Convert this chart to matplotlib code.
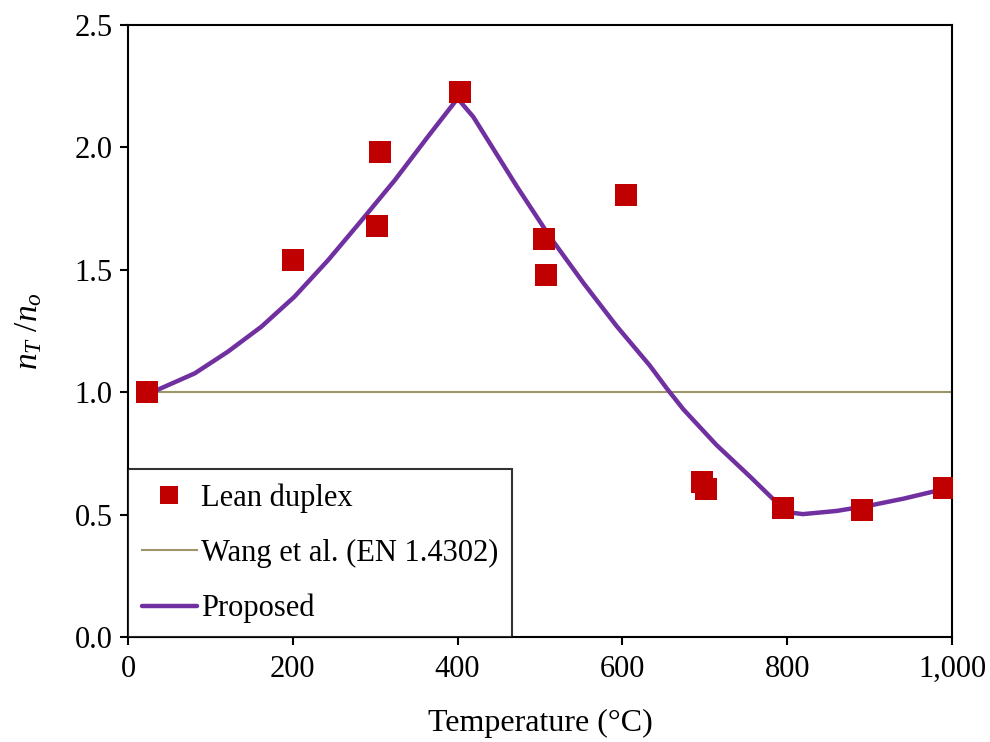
import matplotlib
matplotlib.use("Agg")
import matplotlib.pyplot as plt
from matplotlib.ticker import FuncFormatter

plt.rcParams['font.family'] = ['Liberation Serif', 'DejaVu Serif']
plt.rcParams['mathtext.fontset'] = 'custom'
plt.rcParams['mathtext.rm'] = 'Liberation Serif'
plt.rcParams['mathtext.it'] = 'Liberation Serif:italic'

# test data (lean duplex)
test_T = [23, 200, 306, 302, 403, 505, 507, 604, 697, 701, 795, 891, 990]
test_n = [1.00, 1.54, 1.98, 1.68, 2.225, 1.625, 1.48, 1.805, 0.633, 0.605, 0.527, 0.519, 0.609]

# Wang et al. (EN 1.4302)
wang_T = [20, 1000]
wang_n = [1.0, 1.0]

# proposed curve
prop_T = [20, 36, 81, 121, 162, 202, 243, 283, 324, 364, 400, 419, 472, 512,
          553, 593, 633, 654, 674, 714, 755, 787, 800, 819, 860, 900, 941, 981, 1000]
prop_n = [1.00, 1.01, 1.077, 1.165, 1.268, 1.39, 1.54, 1.70, 1.867, 2.044, 2.20, 2.125,
          1.84, 1.635, 1.445, 1.27, 1.11, 1.015, 0.93, 0.785, 0.655, 0.55, 0.51,
          0.502, 0.515, 0.537, 0.565, 0.597, 0.615]

fig = plt.figure(figsize=(9.9, 7.42), dpi=100)
ax = fig.add_axes([0.1293, 0.1415, 0.8323, 0.8248])

ax.plot(test_T, test_n, 's', color='#C00000', markersize=15.8, markeredgewidth=0,
        label='Lean duplex', zorder=4)
ax.plot(wang_T, wang_n, '-', color='#9E9668', lw=1.5, label='Wang et al. (EN 1.4302)')
ax.plot(prop_T, prop_n, '-', color='#7030A0', lw=3.2, label='Proposed', zorder=3,
        solid_joinstyle='round', solid_capstyle='round')

ax.set_xlim(0, 1000)
ax.set_ylim(0, 2.5)
ax.set_xticks([0, 200, 400, 600, 800, 1000])
ax.set_yticks([0, 0.5, 1.0, 1.5, 2.0, 2.5])
ax.xaxis.set_major_formatter(FuncFormatter(lambda v, p: f'{int(v):,}'))
ax.yaxis.set_major_formatter(FuncFormatter(lambda v, p: f'{v:.1f}'))
ax.tick_params(direction='out', length=6, width=1.5, labelsize=22, pad=7)
ax.tick_params(axis='y', pad=5)
for s in ax.spines.values():
    s.set_linewidth(1.5)

ax.set_xlabel('Temperature (°C)', fontsize=23, labelpad=18)
ax.set_ylabel('$n_T$ /$n_o$', fontsize=24, labelpad=22)

leg = ax.legend(loc='lower left', bbox_to_anchor=(0, 0), fontsize=22,
                frameon=True, fancybox=False, edgecolor='black', borderaxespad=0,
                handlelength=1.8, handletextpad=0.15, labelspacing=0.85,
                borderpad=0.45, markerscale=0.86)
leg.get_frame().set_linewidth(1.5)

fig.savefig('out.png', dpi=100)
